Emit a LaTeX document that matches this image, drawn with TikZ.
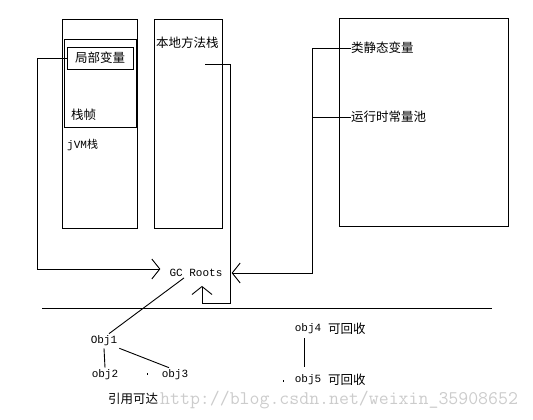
\documentclass[tikz,border=0pt]{standalone}
\usepackage{fontspec}
\setmainfont{Liberation Mono}
\newfontfamily\cjkfont{Noto Sans CJK SC}
\usetikzlibrary{arrows.meta}

\tikzset{
  box/.style={draw, line width=0.9pt, anchor=north west, inner sep=0pt},
  zh/.style={font=\cjkfont\fontsize{12.5}{13}\selectfont, inner sep=0pt, anchor=west},
  en/.style={font=\fontsize{11}{11}\selectfont, inner sep=2pt},
  link/.style={line width=0.9pt},
  conn/.style={link, -{Straight Barb[length=8pt,width=20pt]}},
}

\begin{document}
\begin{tikzpicture}[x=1pt,y=-1pt]
\useasboundingbox (0,0) rectangle (533,420);
\path (62,19) node[box, minimum width=75pt, minimum height=209pt] (jvm) {}
      (64,39) node[box, minimum width=72pt, minimum height=88pt] (frame) {}
      (100,58) node[box, zh, anchor=center, minimum width=66pt, minimum height=22pt] (local) {局部变量}
      (71,115) node[zh] (framelbl) {栈帧}
      (67,145) node[zh, font=\fontsize{11}{11}\selectfont] (jvmlbl) {jVM{\cjkfont 栈}}
      (154,19) node[box, minimum width=68pt, minimum height=209pt] (native) {}
      (156,43) node[zh] (nativelbl) {本地方法栈}
      (339,18) node[box, minimum width=169pt, minimum height=208pt] (method) {}
      (351,48) node[zh] (static) {类静态变量}
      (351,117) node[zh] (pool) {运行时常量池}
      (196,273) node[en, inner sep=9pt] (gc) {GC Roots}
      (104,341) node[en] (obj1) {Obj1}
      (105,375) node[en] (obj2) {obj2}
      (175,375) node[en] (obj3) {obj3}
      (308,329) node[en] (obj4) {obj4}
      (328,329) node[zh] (free4) {可回收}
      (308,380) node[en] (obj5) {obj5}
      (328,380) node[zh] (free5) {可回收}
      (108,399) node[zh] (reach) {引用可达}
      (160,400) node[anchor=west, inner sep=0pt, text=gray!40, font=\ttfamily\fontsize{19.3}{19}\selectfont] (mark) {http://blog.csdn.net/weixin\_35908652}
      ;
\coordinate (nm) at (205,64);
\coordinate (bus) at (312,49);
\coordinate (sepl) at (42,308);
\coordinate (sepr) at (492,308);

% roots into GC Roots
\draw[conn] (local.west) -- (37,58) |- ([yshift=4pt]gc.west);
\draw[conn] (nm) -| (230,303) -| ([xshift=6pt]gc.south);
\draw[conn] (static.west) -| (bus |- gc.east) -- (gc.east);
\draw[link] (pool.west) -- (pool.west -| bus);

\draw[link] (sepl) -- (sepr);

% reference chain
\draw[link] ([shift={(-12pt,8pt)}]gc.south) -- ([xshift=5pt]obj1.north);
\draw[link] (obj1.south) -- (obj2.north);
\draw[link] (obj1.south east) -- ([xshift=-6pt]obj3.north);
\draw[link, shorten <=2pt, shorten >=6pt] ([xshift=-4pt]obj4.south) -- ([xshift=-4pt]obj5.north);

\fill (146.5,373) rectangle (147.5,375);
\fill (282.5,380) rectangle (283.5,382);
\end{tikzpicture}
\end{document}
